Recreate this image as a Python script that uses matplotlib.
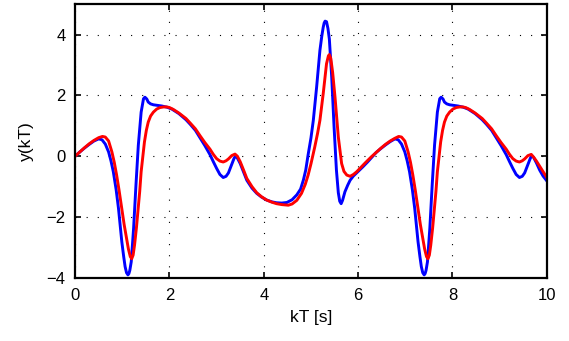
import numpy as np
import matplotlib
matplotlib.use('Agg')
import matplotlib.pyplot as plt

plt.rcParams['font.family'] = ['Liberation Sans', 'DejaVu Sans']

# blue curve
blue_x = [0.00, 0.10, 0.20, 0.30, 0.40, 0.50, 0.57, 0.64, 0.71, 0.76, 0.81, 0.87, 0.92, 0.99,
          1.03, 1.06, 1.09, 1.12, 1.14, 1.16, 1.19, 1.24, 1.29, 1.34, 1.40, 1.45, 1.48, 1.52,
          1.55, 1.60, 1.66, 1.75, 1.84, 1.95, 2.05, 2.20, 2.35, 2.44, 2.55, 2.65, 2.75, 2.86,
          2.93, 3.00, 3.07, 3.14, 3.20, 3.25, 3.30, 3.34, 3.37, 3.40, 3.44, 3.50, 3.57, 3.64,
          3.75, 3.85, 3.95, 4.06, 4.17, 4.27, 4.38, 4.49, 4.60, 4.70, 4.78, 4.84, 4.89, 4.94,
          5.00, 5.05, 5.12, 5.19, 5.23, 5.26, 5.28, 5.30, 5.33, 5.36, 5.39, 5.44, 5.49, 5.54,
          5.58, 5.61, 5.64, 5.67, 5.72, 5.78, 5.83, 5.90, 6.00, 6.10, 6.20, 6.28,
          6.38, 6.48, 6.58, 6.68, 6.78, 6.85, 6.92, 6.99, 7.04, 7.09, 7.15, 7.20, 7.27, 7.31,
          7.34, 7.37, 7.40, 7.42, 7.44, 7.47, 7.52, 7.57, 7.62, 7.68, 7.73, 7.76, 7.80, 7.83,
          7.88, 7.94, 8.03, 8.12, 8.23, 8.33, 8.48, 8.63, 8.72, 8.83, 8.93, 9.03, 9.14, 9.21,
          9.28, 9.35, 9.42, 9.48, 9.53, 9.58, 9.62, 9.65, 9.68, 9.72, 9.78, 9.85, 9.92, 10.00]
blue_y = [0.00, 0.14, 0.27, 0.39, 0.50, 0.57, 0.54, 0.40, 0.14, -0.15, -0.51, -1.10, -1.72, -2.81,
          -3.30, -3.63, -3.83, -3.90, -3.86, -3.75, -3.47, -2.37, -0.95, 0.36, 1.45, 1.89, 1.94, 1.88,
          1.78, 1.72, 1.69, 1.67, 1.65, 1.61, 1.55, 1.40, 1.20, 1.05, 0.85, 0.60, 0.35, 0.05,
          -0.18, -0.40, -0.60, -0.70, -0.66, -0.55, -0.35, -0.19, -0.07, 0.00, -0.06, -0.24, -0.52, -0.79,
          -1.05, -1.22, -1.34, -1.44, -1.50, -1.53, -1.54, -1.52, -1.43, -1.27, -1.08, -0.78, -0.45, 0.05,
          0.60, 1.18, 2.27, 3.48, 3.95, 4.24, 4.38, 4.44, 4.42, 4.20, 3.85, 2.60, 0.96, -0.46,
          -1.20, -1.48, -1.56, -1.45, -1.17, -0.95, -0.79, -0.65, -0.50, -0.35, -0.19, -0.05,
          0.12, 0.25, 0.37, 0.48, 0.57, 0.54, 0.40, 0.14, -0.15, -0.51, -1.10, -1.72, -2.81, -3.30,
          -3.63, -3.83, -3.90, -3.86, -3.75, -3.47, -2.37, -0.95, 0.36, 1.45, 1.89, 1.94, 1.88, 1.78,
          1.72, 1.69, 1.67, 1.65, 1.61, 1.55, 1.40, 1.20, 1.05, 0.85, 0.60, 0.35, 0.05, -0.18,
          -0.40, -0.60, -0.70, -0.66, -0.55, -0.35, -0.19, -0.07, 0.02, -0.04, -0.22, -0.46, -0.65, -0.81]

# red curve
red_x = [0.00, 0.10, 0.20, 0.30, 0.40, 0.50, 0.58, 0.64, 0.71, 0.78, 0.83, 0.88, 0.93, 0.99,
         1.04, 1.09, 1.13, 1.17, 1.20, 1.23, 1.26, 1.30, 1.33, 1.37, 1.40, 1.44, 1.47, 1.51,
         1.55, 1.60, 1.66, 1.73, 1.80, 1.88, 1.94, 2.00, 2.08, 2.20, 2.35, 2.44, 2.55, 2.65,
         2.75, 2.86, 2.93, 3.00, 3.07, 3.14, 3.20, 3.25, 3.32, 3.39, 3.44, 3.50, 3.57, 3.64,
         3.75, 3.85, 3.95, 4.06, 4.17, 4.27, 4.38, 4.52, 4.60, 4.70, 4.80, 4.88, 4.94, 5.00,
         5.08, 5.14, 5.19, 5.26, 5.33, 5.37, 5.39, 5.42, 5.46, 5.51, 5.58, 5.65, 5.70, 5.76,
         5.83, 5.90, 5.97, 6.05, 6.15, 6.28,
         6.38, 6.48, 6.58, 6.68, 6.78, 6.86, 6.92, 6.99, 7.06, 7.11, 7.16, 7.21, 7.27, 7.32,
         7.37, 7.41, 7.45, 7.48, 7.51, 7.54, 7.58, 7.61, 7.65, 7.68, 7.72, 7.75, 7.79, 7.83,
         7.88, 7.94, 8.01, 8.08, 8.16, 8.22, 8.28, 8.36, 8.48, 8.63, 8.72, 8.83, 8.93, 9.03,
         9.14, 9.21, 9.28, 9.35, 9.42, 9.48, 9.53, 9.60, 9.67, 9.72, 9.78, 9.85, 9.92, 10.00]
red_y = [0.00, 0.14, 0.28, 0.41, 0.52, 0.61, 0.65, 0.63, 0.50, 0.14, -0.20, -0.62, -1.10, -1.72,
         -2.25, -2.70, -3.05, -3.30, -3.37, -3.25, -2.92, -2.35, -1.82, -1.15, -0.51, 0.05, 0.47, 0.85,
         1.12, 1.32, 1.45, 1.55, 1.60, 1.62, 1.62, 1.60, 1.54, 1.42, 1.24, 1.09, 0.90, 0.67,
         0.45, 0.23, 0.06, -0.08, -0.16, -0.19, -0.15, -0.09, 0.02, 0.07, 0.00, -0.18, -0.45, -0.73,
         -1.00, -1.20, -1.33, -1.44, -1.51, -1.56, -1.59, -1.61, -1.57, -1.45, -1.22, -0.92, -0.62, -0.25,
         0.30, 0.75, 1.18, 2.06, 3.04, 3.30, 3.34, 3.22, 2.75, 1.94, 0.63, -0.24, -0.50, -0.62,
         -0.66, -0.60, -0.51, -0.38, -0.22, -0.02,
         0.12, 0.26, 0.39, 0.50, 0.59, 0.65, 0.63, 0.50, 0.14, -0.20, -0.62, -1.10, -1.72, -2.25,
         -2.70, -3.05, -3.30, -3.37, -3.25, -2.92, -2.35, -1.82, -1.15, -0.51, 0.05, 0.47, 0.85, 1.12,
         1.32, 1.45, 1.55, 1.60, 1.62, 1.62, 1.60, 1.54, 1.42, 1.24, 1.09, 0.90, 0.67, 0.45,
         0.23, 0.06, -0.08, -0.16, -0.19, -0.15, -0.09, 0.02, 0.06, -0.03, -0.16, -0.33, -0.50, -0.70]

fig = plt.figure(figsize=(5.69, 3.41), dpi=100)
ax = fig.add_axes([0.132, 0.185, 0.829, 0.803])

ax.plot(blue_x, blue_y, color='#0000ff', lw=2.1)
ax.plot(red_x, red_y, color='#ff0000', lw=2.1)

ax.set_xlim(0, 10)
ax.set_ylim(-4, 5)
ax.set_xticks([0, 2, 4, 6, 8, 10])
ax.set_yticks([-4, -2, 0, 2, 4])
ax.set_yticklabels(['\u22124', '\u22122', '0', '2', '4'])
ax.grid(True, color='black', linestyle=(0, (1, 9)), linewidth=0.8)
ax.tick_params(direction='in', top=True, right=True, length=4, width=1.2, labelsize=12, pad=7)
for s in ax.spines.values():
    s.set_linewidth(1.6)

ax.set_xlabel('kT [s]', fontsize=12.5, labelpad=5)
ax.set_ylabel('y(kT)', fontsize=12.5, labelpad=9)

fig.savefig('out.png', dpi=100)
